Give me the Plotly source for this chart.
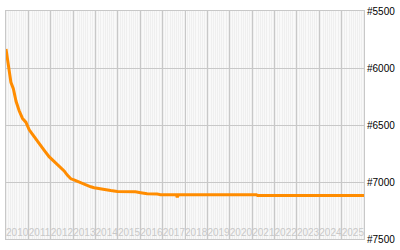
import plotly.graph_objects as go

dates = ["2010-01-01", "2010-01-30", "2010-02-25", "2010-03-22", "2010-05-01",
         "2010-06-14", "2010-08-04", "2010-09-27", "2010-11-21", "2011-01-15",
         "2011-03-10", "2011-05-05", "2011-06-25", "2011-09-17", "2011-12-05",
         "2012-02-24", "2012-05-18", "2012-08-07", "2012-10-01", "2012-11-25",
         "2013-01-15", "2013-03-15", "2013-05-05", "2013-06-28", "2013-08-22",
         "2013-10-16", "2013-12-10", "2014-02-03", "2014-03-26", "2014-06-18",
         "2014-09-06", "2014-12-24", "2015-06-03", "2015-10-16", "2016-01-08",
         "2016-04-23", "2016-10-05", "2016-11-28", "2017-08-15", "2017-08-22",
         "2017-09-05", "2017-09-16", "2021-03-10", "2021-04-01", "2026-01-01"]
ranks = [5833, 5958, 6042, 6125, 6181,
         6292, 6375, 6442, 6475, 6542,
         6583, 6625, 6667, 6722, 6778,
         6819, 6861, 6903, 6942, 6972,
         6981, 6994, 7006, 7019, 7033,
         7042, 7050, 7056, 7061, 7064,
         7075, 7083, 7083, 7086, 7094,
         7103, 7106, 7111, 7111, 7125,
         7125, 7111, 7111, 7119, 7119]

y_ticks = [5500, 6000, 6500, 7000, 7500]
y_labels = ["#5500", "#6000", "#6500", "#7000", "#7500"]

fig = go.Figure(go.Scatter(
    x=dates, y=ranks, mode="lines",
    line=dict(color="#ff8c00", width=3),
    hoverinfo="skip",
))

fig.update_layout(
    width=400, height=250,
    margin=dict(l=5, r=36, t=5, b=5),
    paper_bgcolor="white",
    plot_bgcolor="#efefef",
    showlegend=False,
    font=dict(family="Liberation Sans, Arial, sans-serif", size=10, color="#000000"),
)
fig.update_xaxes(
    type="date",
    range=["2010-01-01", "2026-01-01"],
    tick0="2010-01-01", dtick="M12",
    tickformat="%Y",
    tickangle=0,
    ticklabelmode="period",
    ticklabelposition="inside",
    ticklabeloverflow="allow",
    tickfont=dict(color="#c8c8c8", size=10),
    ticks="",
    showgrid=True, gridcolor="#c8c8c8", gridwidth=1,
    minor=dict(dtick="M1", showgrid=True, gridcolor="rgba(255,255,255,0.6)", gridwidth=1),
    showline=True, mirror=True, linecolor="#c8c8c8", linewidth=1,
    zeroline=False,
)
fig.update_yaxes(
    side="right",
    range=[7500, 5500],
    tickvals=y_ticks, ticktext=y_labels,
    ticks="",
    ticklabeloverflow="allow",
    showgrid=True, gridcolor="#c8c8c8", gridwidth=1,
    showline=True, mirror=True, linecolor="#c8c8c8", linewidth=1,
    zeroline=False,
)

fig.write_html("out.html")
